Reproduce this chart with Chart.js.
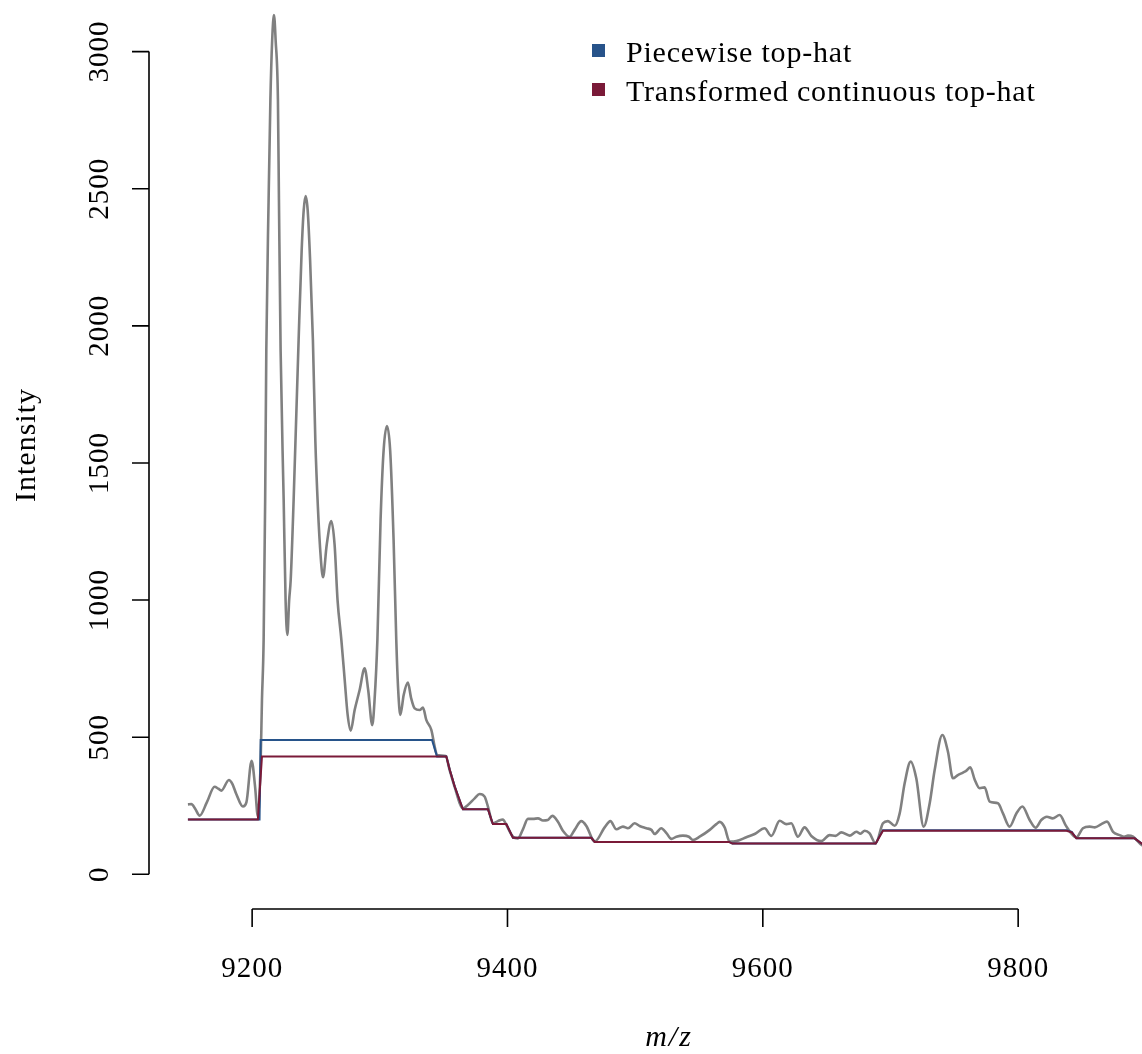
<!DOCTYPE html>
<html>
<head>
<meta charset="utf-8">
<script src="https://cdn.jsdelivr.net/npm/chart.js@4.4.1/dist/chart.umd.min.js"></script>
<style>
  html, body { margin: 0; padding: 0; background: #fff; }
  canvas { display: block; }
</style>
</head>
<body>
<canvas id="spectrum" width="1142" height="1054"></canvas>
<script>
'use strict';

// raw spectrum (m/z, intensity)
var mzSpectrum = [
  9149.7, 9152.4, 9155.5, 9158.9, 9164.5, 9170.6, 9173.5, 9175.9, 9181.8, 9184.5,
  9187.5, 9192.8, 9195.5, 9199.6, 9202.3, 9204.5, 9206.7, 9207.7, 9209.0, 9210.2,
  9211.1, 9212.9, 9214.3, 9215.7, 9217.1, 9218.4, 9220.2, 9221.0, 9222.3, 9224.7,
  9226.2, 9227.6, 9229.0, 9230.2, 9232.5, 9236.4, 9238.8, 9240.4, 9241.9, 9243.5,
  9245.4, 9247.6, 9249.5, 9251.5, 9253.7, 9255.5, 9258.4, 9262.0, 9264.6, 9266.9,
  9269.9, 9272.5, 9274.8, 9277.2, 9280.3, 9284.2, 9288.1, 9290.9, 9294.1, 9295.9,
  9298.1, 9300.6, 9303.0, 9305.6, 9308.1, 9310.8, 9312.9, 9314.4, 9316.1, 9318.7,
  9322.0, 9324.5, 9327.3, 9331.2, 9333.8, 9336.4, 9340.4, 9343.0, 9344.8, 9351.6,
  9354.7, 9358.6, 9365.1, 9369.0, 9374.3, 9378.2, 9382.1, 9384.7, 9388.6, 9392.5,
  9396.4, 9399.1, 9404.3, 9408.2, 9412.1, 9416.0, 9420.0, 9423.9, 9427.8, 9431.5,
  9435.1, 9439.5, 9443.4, 9448.7, 9452.6, 9457.8, 9461.8, 9466.9, 9468.5, 9476.1,
  9480.6, 9485.3, 9490.4, 9494.4, 9499.6, 9503.5, 9508.8, 9512.7, 9515.3, 9520.5,
  9524.5, 9528.4, 9532.3, 9537.4, 9542.1, 9545.3, 9550.5, 9558.4, 9563.6, 9566.2,
  9570.1, 9574.0, 9579.3, 9587.1, 9593.6, 9601.4, 9606.7, 9613.2, 9618.4, 9622.3,
  9627.5, 9632.7, 9638.0, 9645.8, 9652.3, 9657.0, 9661.5, 9668.0, 9673.3, 9676.5,
  9679.8, 9683.5, 9688.4, 9694.1, 9698.0, 9703.3, 9707.2, 9711.1, 9715.8, 9720.2,
  9726.0, 9730.7, 9734.6, 9740.6, 9745.0, 9748.9, 9752.8, 9756.8, 9759.5, 9762.5,
  9765.9, 9769.8, 9773.7, 9777.7, 9784.2, 9788.1, 9793.3, 9798.6, 9803.3, 9809.0,
  9813.7, 9818.1, 9822.5, 9827.0, 9832.5, 9837.8, 9845.6, 9850.7, 9856.0, 9860.0,
  9865.2, 9869.6, 9874.3, 9879.5, 9883.0, 9886.0, 9890.0, 9896.7, 9902.0
];
var intensity = [
  255, 256, 238, 214, 262, 319, 312, 305, 344, 330,
  294, 247, 262, 414, 320, 210, 417, 636, 854, 1365,
  1912, 2459, 2824, 3042, 3133, 3042, 2824, 2459, 1912, 1365,
  1000, 873, 1000, 1073, 1365, 1948, 2276, 2422, 2473, 2422,
  2240, 1948, 1583, 1340, 1158, 1083, 1201, 1288, 1201, 1000,
  854, 709, 582, 524, 599, 672, 751, 672, 544, 636,
  854, 1292, 1547, 1635, 1547, 1219, 854, 672, 581, 654,
  699, 643, 605, 599, 608, 563, 526, 465, 435, 431,
  380, 319, 241, 253, 277, 293, 283, 247, 186, 194,
  200, 180, 137, 131, 164, 202, 202, 204, 196, 198,
  213, 192, 159, 137, 162, 194, 176, 125, 120, 171,
  194, 164, 174, 168, 186, 176, 168, 162, 147, 168,
  150, 129, 137, 141, 137, 125, 137, 162, 183, 191,
  171, 119, 121, 135, 147, 168, 140, 195, 183, 186,
  137, 171, 140, 121, 143, 140, 153, 141, 155, 148,
  159, 150, 113, 186, 194, 177, 222, 332, 411, 350,
  174, 259, 380, 508, 447, 350, 362, 371, 378, 390,
  346, 314, 317, 265, 259, 222, 174, 222, 247, 198,
  170, 198, 210, 204, 216, 174, 135, 168, 174, 171,
  183, 192, 155, 143, 137, 141, 137, 107, 95
];

// piecewise top-hat baseline
var mzPiecewise = [
  9149.7, 9205.8, 9206.7, 9340.9, 9344.8, 9352.1, 9354.7, 9358.6, 9365.1, 9384.7,
  9388.6, 9399.1, 9404.3, 9465.7, 9468.3, 9573.5, 9576.1, 9688.4, 9694.1, 9837.8,
  9842.0, 9845.6, 9891.2, 9902.0
];
var piecewise = [
  200, 200, 490, 490, 430, 430, 382, 321, 237, 237,
  183, 183, 133, 133, 118, 118, 112, 112, 161, 161,
  155, 131, 131, 95
];

// transformed continuous top-hat baseline
var mzTransformed = [
  9149.7, 9204.5, 9207.7, 9352.1, 9354.7, 9358.6, 9365.1, 9384.7, 9388.6, 9399.1,
  9404.3, 9465.7, 9468.3, 9573.5, 9576.1, 9688.4, 9694.1, 9837.8, 9842.0, 9845.6,
  9891.2, 9902.0
];
var transformed = [
  200, 200, 430, 430, 382, 321, 237, 237, 183, 183,
  133, 133, 118, 118, 112, 112, 159, 159, 153, 131,
  131, 95
];

var xTicks = [9200, 9400, 9600, 9800];
var yTicks = [0, 500, 1000, 1500, 2000, 2500, 3000];
var seriesNames = ['Piecewise top-hat', 'Transformed continuous top-hat'];

var serif = "'Liberation Serif', 'DejaVu Serif', serif";
var gray = '#808080';
var blue = '#27538a';
var red = '#7a1a38';

function points(xs, ys) {
  return xs.map(function(x, i) { return {x: x, y: ys[i]}; });
}

// base-graphics style axes, labels and legend
var baseAxes = {
  id: 'baseAxes',
  afterDraw: function(chart) {
    var ctx = chart.ctx;
    var area = chart.chartArea;
    var x = chart.scales.x;
    var y = chart.scales.y;
    ctx.save();
    ctx.strokeStyle = '#000';
    ctx.fillStyle = '#000';
    ctx.lineWidth = 1.6;

    // left axis
    var ax = area.left - 1;
    ctx.beginPath();
    ctx.moveTo(ax, y.getPixelForValue(yTicks[0]));
    ctx.lineTo(ax, y.getPixelForValue(yTicks[yTicks.length - 1]));
    yTicks.forEach(function(v) {
      var py = y.getPixelForValue(v);
      ctx.moveTo(ax, py);
      ctx.lineTo(ax - 17, py);
    });
    ctx.stroke();

    ctx.font = '29px ' + serif;
    ctx.letterSpacing = '1px';
    ctx.textAlign = 'center';
    ctx.textBaseline = 'alphabetic';
    yTicks.forEach(function(v) {
      ctx.save();
      ctx.translate(ax - 41, y.getPixelForValue(v));
      ctx.rotate(-Math.PI / 2);
      ctx.fillText(String(v), 0, 0);
      ctx.restore();
    });

    // bottom axis
    var ay = area.bottom + 1;
    ctx.beginPath();
    ctx.moveTo(x.getPixelForValue(xTicks[0]), ay);
    ctx.lineTo(x.getPixelForValue(xTicks[xTicks.length - 1]), ay);
    xTicks.forEach(function(v) {
      var px = x.getPixelForValue(v);
      ctx.moveTo(px, ay);
      ctx.lineTo(px, ay + 18);
    });
    ctx.stroke();
    xTicks.forEach(function(v) {
      ctx.fillText(String(v), x.getPixelForValue(v), ay + 68);
    });

    // axis titles
    ctx.font = 'italic 30px ' + serif;
    ctx.letterSpacing = '2px';
    ctx.fillText('m/z', 669, 1046);
    ctx.font = '30px ' + serif;
    ctx.letterSpacing = '1px';
    ctx.save();
    ctx.translate(35, 445);
    ctx.rotate(-Math.PI / 2);
    ctx.fillText('Intensity', 0, 0);
    ctx.restore();

    // legend
    var colors = [blue, red];
    ctx.font = '30px ' + serif;
    ctx.letterSpacing = '0.8px';
    ctx.textAlign = 'left';
    seriesNames.forEach(function(name, i) {
      var top = 44 + i * 39;
      ctx.fillStyle = colors[i];
      ctx.fillRect(592, top, 13, 13);
      ctx.fillStyle = '#000';
      ctx.fillText(name, 626, top + 18);
    });
    ctx.restore();
  }
};

var chart = new Chart(document.getElementById('spectrum').getContext('2d'), {
  type: 'line',
  data: {
    datasets: [
      {
        label: seriesNames[1],
        data: points(mzTransformed, transformed),
        borderColor: red,
        borderWidth: 2,
        tension: 0,
        order: 1
      },
      {
        label: seriesNames[0],
        data: points(mzPiecewise, piecewise),
        borderColor: blue,
        borderWidth: 2,
        tension: 0,
        order: 2
      },
      {
        label: 'Spectrum',
        data: points(mzSpectrum, intensity),
        borderColor: gray,
        borderWidth: 2.6,
        cubicInterpolationMode: 'monotone',
        order: 3
      }
    ]
  },
  options: {
    responsive: false,
    animation: false,
    devicePixelRatio: 1,
    layout: { padding: { left: 150, right: 0, top: 0, bottom: 146 } },
    elements: { point: { radius: 0 } },
    scales: {
      x: { type: 'linear', min: 9120, max: 9897, display: false },
      y: { type: 'linear', min: -122.9, max: 3188.2, display: false }
    },
    plugins: {
      legend: { display: false },
      tooltip: { enabled: false }
    }
  },
  plugins: [baseAxes]
});
</script>
</body>
</html>
